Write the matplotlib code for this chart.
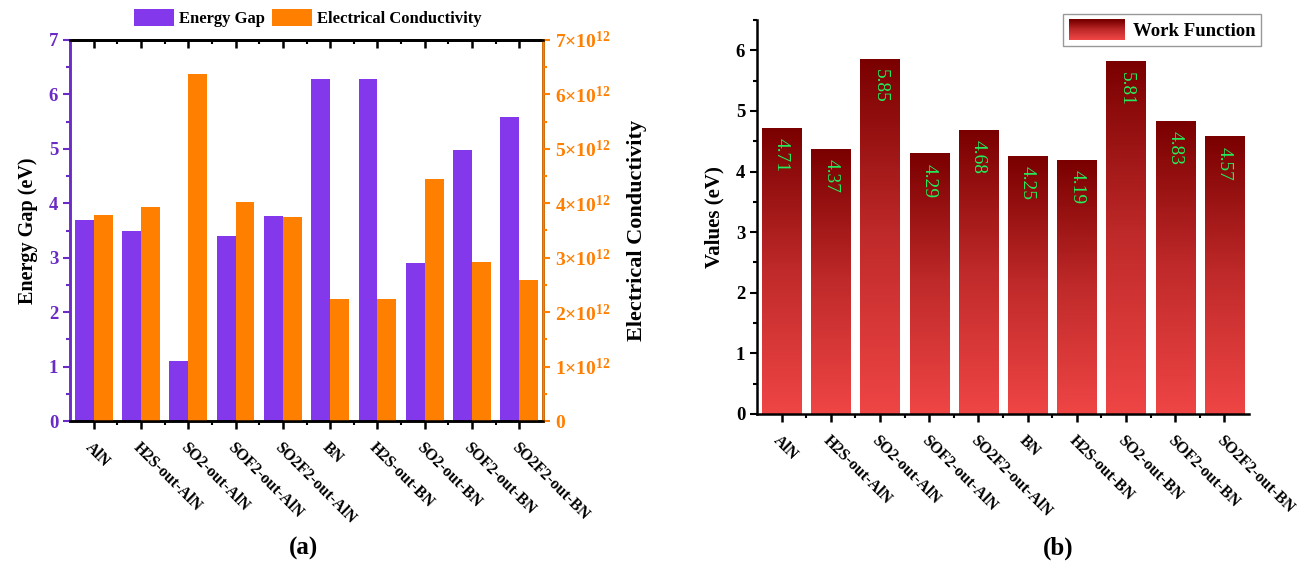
import numpy as np
import matplotlib
matplotlib.use('Agg')
import matplotlib.pyplot as plt
from matplotlib.colors import LinearSegmentedColormap
from matplotlib.legend_handler import HandlerBase
from matplotlib.patches import Rectangle
from matplotlib.ticker import FixedLocator, FuncFormatter, MultipleLocator

plt.rcParams['font.family'] = ['Liberation Serif', 'DejaVu Serif']
plt.rcParams['font.weight'] = 'bold'
plt.rcParams['axes.labelweight'] = 'bold'
plt.rcParams['mathtext.default'] = 'regular'

# data
systems = ['AlN', 'H2S-out-AlN', 'SO2-out-AlN', 'SOF2-out-AlN', 'SO2F2-out-AlN',
           'BN', 'H2S-out-BN', 'SO2-out-BN', 'SOF2-out-BN', 'SO2F2-out-BN']
energy_gap = [3.70, 3.50, 1.11, 3.40, 3.76, 6.29, 6.28, 2.90, 4.97, 5.59]
conductivity = [3.78e12, 3.94e12, 6.37e12, 4.02e12, 3.74e12,
                2.24e12, 2.24e12, 4.45e12, 2.92e12, 2.59e12]
work_function = [4.71, 4.37, 5.85, 4.29, 4.68, 4.25, 4.19, 5.81, 4.83, 4.57]

purple = '#8338ec'
purple_ax = '#6a2cc4'
orange = '#ff7f00'
green = '#22ee5c'
red_cmap = LinearSegmentedColormap.from_list('wf', ['#ef4545', '#c02a2a', '#7a0000'])

fig = plt.figure(figsize=(13.01, 5.66), dpi=100)
x = np.arange(len(systems))

# ---------------- (a) energy gap + conductivity ----------------
ax1 = fig.add_axes([70/1301, 1-421/566, 473/1301, 381/566])
ax2 = ax1.twinx()
b1 = ax1.bar(x - 0.2, energy_gap, 0.4, color=purple, zorder=2)
b2 = ax2.bar(x + 0.2, conductivity, 0.4, color=orange, zorder=2)
ax1.set_xlim(-0.5, len(systems) - 0.5)
ax1.set_ylim(0, 7)
ax2.set_ylim(0, 7e12)

ax1.yaxis.set_major_locator(MultipleLocator(1))
ax1.yaxis.set_minor_locator(MultipleLocator(0.5))
ax2.yaxis.set_major_locator(FixedLocator(np.arange(0, 8) * 1e12))
ax2.yaxis.set_minor_locator(FixedLocator(np.arange(0.5, 7, 1) * 1e12))
ax2.yaxis.set_major_formatter(FuncFormatter(
    lambda v, p: '0' if v == 0 else '%d×10$^{12}$' % round(v / 1e12)))

ax1.spines['left'].set_color(purple_ax)
ax2.spines['left'].set_color(purple_ax)
ax2.spines['right'].set_color(orange)
for a in (ax1, ax2):
    for sp in a.spines.values():
        sp.set_linewidth(1.8)
ax1.tick_params(axis='y', colors=purple_ax, labelsize=13.5, width=1.5, length=5)
ax1.tick_params(axis='y', which='minor', colors=purple_ax, width=1.5, length=3)
ax2.tick_params(axis='y', colors=orange, labelsize=14, width=1.5, length=5)
ax2.tick_params(axis='y', which='minor', colors=orange, width=1.5, length=3)

ax1.set_xticks(x)
ax1.set_xticks(x[:-1] + 0.5, minor=True)
ax1.tick_params(axis='x', which='major', length=6, width=1.8, labelsize=11.5, pad=7)
ax1.tick_params(axis='x', which='minor', length=3, width=1.5)
ax1.set_xticklabels(systems, rotation=-45, ha='left', rotation_mode='anchor')
top1 = ax1.secondary_xaxis('top')
top1.set_xticks(x)
top1.set_xticks(x[:-1] + 0.5, minor=True)
top1.tick_params(axis='x', which='major', direction='in', length=6, width=1.8, labeltop=False)
top1.tick_params(axis='x', which='minor', direction='in', length=3, width=1.5)
top1.spines['top'].set_linewidth(1.8)

ax1.set_ylabel('Energy Gap (eV)', fontsize=14.5, labelpad=8)
ax2.set_ylabel('Electrical Conductivity', fontsize=16, labelpad=12)
fig.legend([b1, b2], ['Energy Gap', 'Electrical Conductivity'], loc='center',
           bbox_to_anchor=(308/1301, 1-18/566), ncol=2, frameon=False, fontsize=12,
           handlelength=2.4, handleheight=1.2, handletextpad=0.3, columnspacing=0.4)
fig.text(303/1301, 1-548/566, '(a)', ha='center', va='center', fontsize=18)

# ---------------- (b) work function ----------------
ax3 = fig.add_axes([757/1301, 1-414/566, 492/1301, 394/566])
bars = ax3.bar(x, work_function, 0.8, color='none', linewidth=0, zorder=3)
grad = np.linspace(0, 1, 256).reshape(-1, 1)
for r in bars:
    ax3.imshow(grad, extent=(r.get_x(), r.get_x() + r.get_width(), 0, r.get_height()),
               origin='lower', aspect='auto', cmap=red_cmap, zorder=2, interpolation='bilinear')
for i, v in enumerate(work_function):
    ax3.annotate('%.2f' % v, (x[i], v), xytext=(0, -7), textcoords='offset points',
                 rotation=-90, ha='center', va='top', color=green, fontsize=14,
                 fontweight='normal', zorder=4)
ax3.set_xlim(-0.5, len(systems) - 0.5)
ax3.set_ylim(0, 6.5)
ax3.yaxis.set_major_locator(MultipleLocator(1))
ax3.yaxis.set_minor_locator(MultipleLocator(0.5))
ax3.spines['top'].set_visible(False)
ax3.spines['right'].set_visible(False)
for sp in ['left', 'bottom']:
    ax3.spines[sp].set_linewidth(1.8)
ax3.tick_params(axis='y', labelsize=13.5, width=1.5, length=5)
ax3.tick_params(axis='y', which='minor', width=1.5, length=3)
ax3.set_xticks(x)
ax3.set_xticks(x[:-1] + 0.5, minor=True)
ax3.tick_params(axis='x', which='major', length=6, width=1.8, labelsize=11.5, pad=7)
ax3.tick_params(axis='x', which='minor', length=3, width=1.5)
ax3.set_xticklabels(systems, rotation=-45, ha='left', rotation_mode='anchor')
ax3.set_ylabel('Values (eV)', fontsize=15, labelpad=8)


class GradientHandler(HandlerBase):
    def create_artists(self, legend, orig_handle, xdescent, ydescent, width, height, fontsize, trans):
        n = 20
        arts = []
        for k in range(n):
            arts.append(Rectangle((-xdescent, -ydescent + height * k / n), width, height / n + 0.3,
                                  facecolor=red_cmap(k / (n - 1)), edgecolor='none', transform=trans))
        return arts


wf_handle = Rectangle((0, 0), 1, 1)
leg = fig.legend([wf_handle], ['Work Function'], handler_map={Rectangle: GradientHandler()},
                 loc='upper right', bbox_to_anchor=(1261/1301, 1-14/566), fontsize=13.5,
                 fancybox=False, edgecolor='#999999', framealpha=1, borderpad=0.3,
                 handlelength=3.0, handleheight=1.3, handletextpad=0.4, borderaxespad=0)
leg.get_frame().set_linewidth(1.0)
fig.text(1058/1301, 1-548/566, '(b)', ha='center', va='center', fontsize=18)

fig.savefig('out.png', dpi=100)
